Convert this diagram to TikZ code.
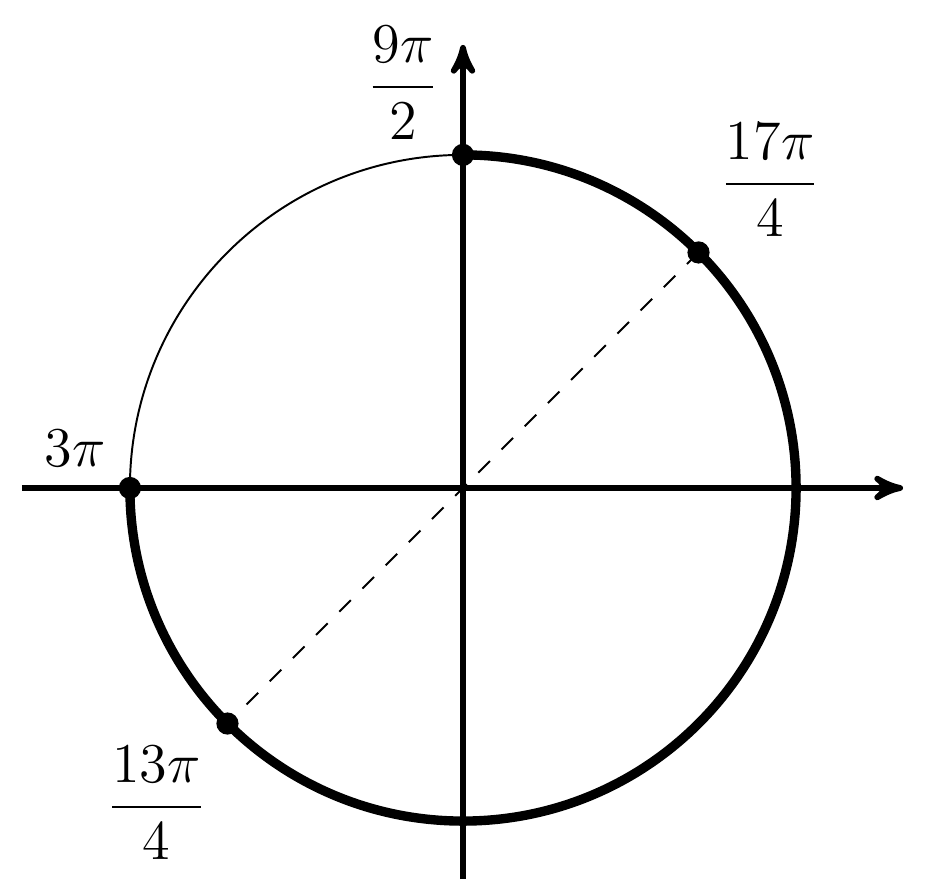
\documentclass[tikz,border=0pt]{standalone}
\usepackage{amsmath}
\usepackage{amssymb}
\usepackage{tikz}
\usetikzlibrary{calc}
\usetikzlibrary{arrows}
\tikzset{
 axis/.style={black, line width=1.5pt, ->, >=stealth'},
 bigarc/.style={black, line width=2.4pt},
 dot/.style={circle, fill=black, inner sep=0pt, minimum size=0.2cm},
 angle label/.style={font=\fontsize{13.6}{16}\selectfont}
}

\begin{document}
\begin{tikzpicture} [scale=3]
\useasboundingbox (-1.390,-1.174) rectangle (1.390,1.465);
\coordinate (xmin) at (-1.324,0);
\coordinate (xmax) at (1.321,0);
\coordinate (ymin) at (0,-1.174);
\coordinate (ymax) at (0,1.330);
\coordinate (top) at (90:1);
\coordinate (ne) at (45:1);
\coordinate (left) at (180:1);
\coordinate (sw) at (225:1);
\draw[black, line width=0.5pt] (0,0) circle (1);
\draw[bigarc] (top) arc (90:-180:1);
\draw[black, line width=0.5pt, dash pattern=on 4.2pt off 4.2pt] (ne)--(sw);
\draw[axis] (xmin)--(xmax);
\draw[axis] (ymin)--(ymax);
\foreach \p in {top,ne,left,sw} {
 \node[dot] (dot-\p) at (\p) {};
}
\node[angle label] (lbl-top) at (-0.180,1.216) {$\dfrac{9\pi}{2}$};
\node[angle label] (lbl-ne) at (0.922,0.925) {$\dfrac{17\pi}{4}$};
\node[angle label] (lbl-left) at (-1.165,0.120) {$3\pi$};
\node[angle label] (lbl-sw) at (-0.920,-0.946) {$\dfrac{13\pi}{4}$};
\end{tikzpicture}
\end{document}
